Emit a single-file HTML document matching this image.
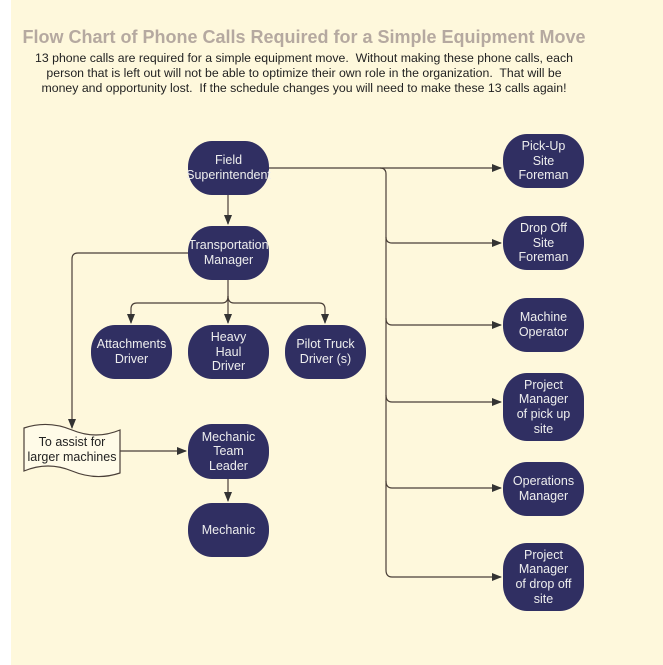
<!DOCTYPE html>
<html><head><style>
body{margin:0;width:663px;height:665px;background:#fff;overflow:hidden;font-family:"Liberation Sans",sans-serif}
.bg{position:absolute;left:11px;top:0;width:652px;height:665px;background:#fef8dc}
h1{position:absolute;left:0;width:608px;top:27px;margin:0;text-align:center;font-size:18px;font-weight:bold;color:#b5a9a0}
.p{position:absolute;left:4px;width:600px;top:51px;text-align:center;font-size:12.3px;line-height:15px;color:#222}
.n{position:absolute;width:81px;background:#302f62;color:#eee;border-radius:24px/26px;display:flex;align-items:center;justify-content:center;text-align:center;font-size:12.5px;line-height:14.6px}
</style></head><body>
<div class="bg"></div>
<h1>Flow Chart of Phone Calls Required for a Simple Equipment Move</h1>
<div class="p">13 phone calls are required for a simple equipment move.&nbsp; Without making these phone calls, each<br>person that is left out will not be able to optimize their own role in the organization.&nbsp; That will be<br>money and opportunity lost.&nbsp; If the schedule changes you will need to make these 13 calls again!</div>
<svg width="663" height="665" style="position:absolute;left:0;top:0">
<defs><marker id="a" markerWidth="10" markerHeight="8" refX="9" refY="4" orient="auto" markerUnits="userSpaceOnUse"><path d="M0,0L10,4L0,8z" fill="#333"/></marker></defs>
<g fill="none" stroke="#4a3f38" stroke-width="1.2">
<path d="M268,168H501" marker-end="url(#a)"/>
<path d="M380,168Q386,168 386,174V570Q386,577 392,577H501" marker-end="url(#a)"/>
<path d="M386,237Q386,243 392,243H501" marker-end="url(#a)"/>
<path d="M386,318Q386,325 392,325H501" marker-end="url(#a)"/>
<path d="M386,395Q386,402 392,402H501" marker-end="url(#a)"/>
<path d="M386,481Q386,488 392,488H501" marker-end="url(#a)"/>
<path d="M228,195V224" marker-end="url(#a)"/>
<path d="M228,280V323" marker-end="url(#a)"/>
<path d="M228,296Q228,303 222,303H137Q131,303 131,309V323" marker-end="url(#a)"/>
<path d="M228,296Q228,303 234,303H319Q325,303 325,309V323" marker-end="url(#a)"/>
<path d="M188,253H78Q72,253 72,259V428" marker-end="url(#a)"/>
<path d="M120,451H186" marker-end="url(#a)"/>
<path d="M228,479V501" marker-end="url(#a)"/>
<path d="M24,428Q48,420 72,430T120,430V473Q96,481 72,471T24,471Z" fill="#fffbe8" stroke="#4a3f38"/>
</g>
<text x="72" y="446" font-size="12.5" text-anchor="middle" fill="#222" font-family="Liberation Sans">To assist for</text>
<text x="72" y="461" font-size="12.5" text-anchor="middle" fill="#222" font-family="Liberation Sans">larger machines</text>
</svg>
<div class="n" style="left:188px;top:141px;height:54px">Field<br>Superintendent</div>
<div class="n" style="left:188px;top:226px;height:54px">Transportation<br>Manager</div>
<div class="n" style="left:91px;top:325px;height:54px">Attachments<br>Driver</div>
<div class="n" style="left:188px;top:325px;height:54px">Heavy<br>Haul<br>Driver</div>
<div class="n" style="left:285px;top:325px;height:54px">Pilot Truck<br>Driver (s)</div>
<div class="n" style="left:188px;top:424px;height:55px">Mechanic<br>Team<br>Leader</div>
<div class="n" style="left:188px;top:503px;height:54px">Mechanic</div>
<div class="n" style="left:503px;top:134px;height:54px">Pick-Up<br>Site<br>Foreman</div>
<div class="n" style="left:503px;top:216px;height:54px">Drop Off<br>Site<br>Foreman</div>
<div class="n" style="left:503px;top:298px;height:54px">Machine<br>Operator</div>
<div class="n" style="left:503px;top:373px;height:68px">Project<br>Manager<br>of pick up<br>site</div>
<div class="n" style="left:503px;top:462px;height:54px">Operations<br>Manager</div>
<div class="n" style="left:503px;top:543px;height:68px">Project<br>Manager<br>of drop off<br>site</div>
</body></html>
